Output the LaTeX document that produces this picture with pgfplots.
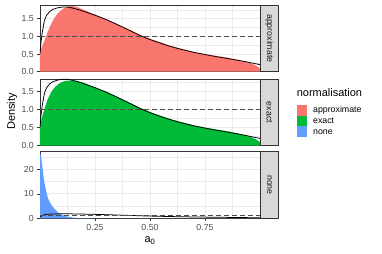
\documentclass[border=0pt]{standalone}
\usepackage{fontspec}
\setmainfont{Liberation Sans}
\usepackage{pgfplots}
\usepackage{pgfplotstable}
\pgfplotsset{compat=1.18}
\definecolor{cA}{HTML}{F8766D}
\definecolor{cB}{HTML}{00BA38}
\definecolor{cC}{HTML}{619CFF}
\definecolor{grid92}{HTML}{EBEBEB}
\definecolor{g20}{HTML}{333333}
\definecolor{g30}{HTML}{4D4D4D}
\definecolor{g85}{HTML}{D9D9D9}
\definecolor{g10}{HTML}{1A1A1A}

\pgfplotstableread{
x y
0 0.51
0.005 0.85
0.01 1.10
0.02 1.45
0.03 1.60
0.045 1.71
0.06 1.77
0.08 1.81
0.10 1.83
0.127 1.83
0.15 1.80
0.19 1.73
0.25 1.60
0.30 1.48
0.35 1.34
0.40 1.19
0.46 1.01
0.50 0.91
0.57 0.76
0.63 0.65
0.705 0.54
0.78 0.45
0.856 0.37
0.93 0.29
1.0 0.20
}\theory

\pgfplotstableread{
x y
0 0.55
0.01 0.72
0.021 0.90
0.035 1.13
0.052 1.37
0.065 1.52
0.082 1.66
0.10 1.76
0.112 1.81
0.13 1.85
0.142 1.86
0.16 1.85
0.173 1.82
0.20 1.75
0.25 1.62
0.30 1.49
0.35 1.35
0.40 1.21
0.45 1.06
0.50 0.93
0.55 0.83
0.60 0.72
0.65 0.64
0.70 0.56
0.75 0.50
0.80 0.45
0.85 0.40
0.90 0.34
0.95 0.26
0.98 0.18
1.0 0.10
}\approxd

\pgfplotstableread{
x y
0 0.54
0.01 0.80
0.021 1.03
0.035 1.28
0.052 1.49
0.065 1.60
0.082 1.69
0.10 1.76
0.12 1.79
0.142 1.80
0.17 1.79
0.20 1.73
0.25 1.61
0.30 1.49
0.35 1.35
0.40 1.21
0.45 1.06
0.50 0.93
0.55 0.82
0.60 0.72
0.65 0.64
0.70 0.56
0.75 0.50
0.80 0.45
0.85 0.40
0.90 0.34
0.95 0.26
0.98 0.18
1.0 0.10
}\exactd

\pgfplotstableread{
x y
0 27.2
0.005 25.0
0.009 22.4
0.018 15.6
0.027 11.5
0.036 8.2
0.045 6.5
0.052 5.4
0.06 4.5
0.067 3.7
0.075 3.0
0.082 2.3
0.095 1.7
0.105 1.3
0.12 0.8
0.14 0.4
0.16 0.15
0.20 0.03
0.30 0.0
1.0 0.0
}\noned

\pgfplotsset{
  panel/.style={
    scale only axis, width=220bp, height=66.7bp,
    xmin=0, xmax=1,
    axis line style={draw=g20, line width=0.55bp},
    grid=both,
    major grid style={draw=grid92, line width=0.9bp},
    minor grid style={draw=grid92, line width=0.45bp},
    xtick={0.25,0.5,0.75},
    minor xtick={0.125,0.375,0.625,0.875},
    tick align=outside,
    major tick length=2.75bp,
    minor tick length=0pt,
    tick style={draw=g20, line width=0.55bp},
    ytick pos=left, xtick pos=bottom,
    tick label style={font=\fontsize{8.8}{10}\selectfont, text=g30},
    /pgf/number format/assume math mode=true,
    axis on top=false,
  },
  nox/.style={xticklabels={}, x tick style={draw=none}},
  smallY/.style={ymin=0, ytick={0,0.5,1,1.5}, minor ytick={0.25,0.75,1.25,1.75},
    yticklabel style={/pgf/number format/.cd, fixed, fixed zerofill, precision=1}},
  theoryline/.style={black, line width=0.75bp},
  unif/.style={g30, line width=0.85bp, dash pattern=on 4.5bp off 3.5bp},
}

\begin{document}
\begin{tikzpicture}
\useasboundingbox (0,0) rectangle (382bp,254bp);

\begin{axis}[panel, nox, smallY, ymax=1.89, at={(40bp,182.3bp)}, anchor=south west]
\addplot[fill=cA, draw=none] table {\approxd} \closedcycle;
\addplot[theoryline] table {\theory};
\addplot[unif] coordinates {(0,1) (1,1)};
\end{axis}

\begin{axis}[panel, nox, smallY, ymax=1.84, at={(40bp,108.3bp)}, anchor=south west]
\addplot[fill=cB, draw=none] table {\exactd} \closedcycle;
\addplot[theoryline] table {\theory};
\addplot[unif] coordinates {(0,1) (1,1)};
\end{axis}

\begin{axis}[panel, ymin=0, ymax=27.2, ytick={0,10,20}, minor ytick={5,15,25},
  xticklabels={0.25,0.50,0.75},
  at={(40bp,35.7bp)}, anchor=south west]
\addplot[fill=cC, draw=none] table {\noned} \closedcycle;
\addplot[theoryline] table {\theory};
\addplot[unif] coordinates {(0,1) (1,1)};
\end{axis}

% strips
\foreach \yb/\lab in {182.3/approximate, 108.3/exact, 35.7/none}{
  \draw[fill=g85, draw=g20, line width=0.55bp] (260bp,\yb bp) rectangle (278.7bp,\yb bp+66.7bp);
  \node[rotate=-90, font=\fontsize{8.8}{10}\selectfont, text=g10] at (269.35bp,\yb bp+33.35bp) {\lab};
}

% axis titles
\node[rotate=90, font=\fontsize{11}{13}\selectfont] at (12bp,142.5bp) {Density};
\node[font=\fontsize{11}{13}\selectfont] at (150bp,13.5bp) {a\textsubscript{0}};

% legend
\node[anchor=base west, font=\fontsize{11}{13}\selectfont, inner sep=0pt] at (296.7bp,157bp) {normalisation};
\fill[cA] (297.3bp,138.4bp) rectangle (307.3bp,149.2bp);
\fill[cB] (297.3bp,127.6bp) rectangle (307.3bp,138.4bp);
\fill[cC] (297.3bp,116.8bp) rectangle (307.3bp,127.6bp);
\node[anchor=west, font=\fontsize{8.8}{10}\selectfont, inner sep=0pt] at (313bp,143.8bp) {approximate};
\node[anchor=west, font=\fontsize{8.8}{10}\selectfont, inner sep=0pt] at (313bp,133bp) {exact};
\node[anchor=west, font=\fontsize{8.8}{10}\selectfont, inner sep=0pt] at (313bp,122.2bp) {none};
\end{tikzpicture}
\end{document}
